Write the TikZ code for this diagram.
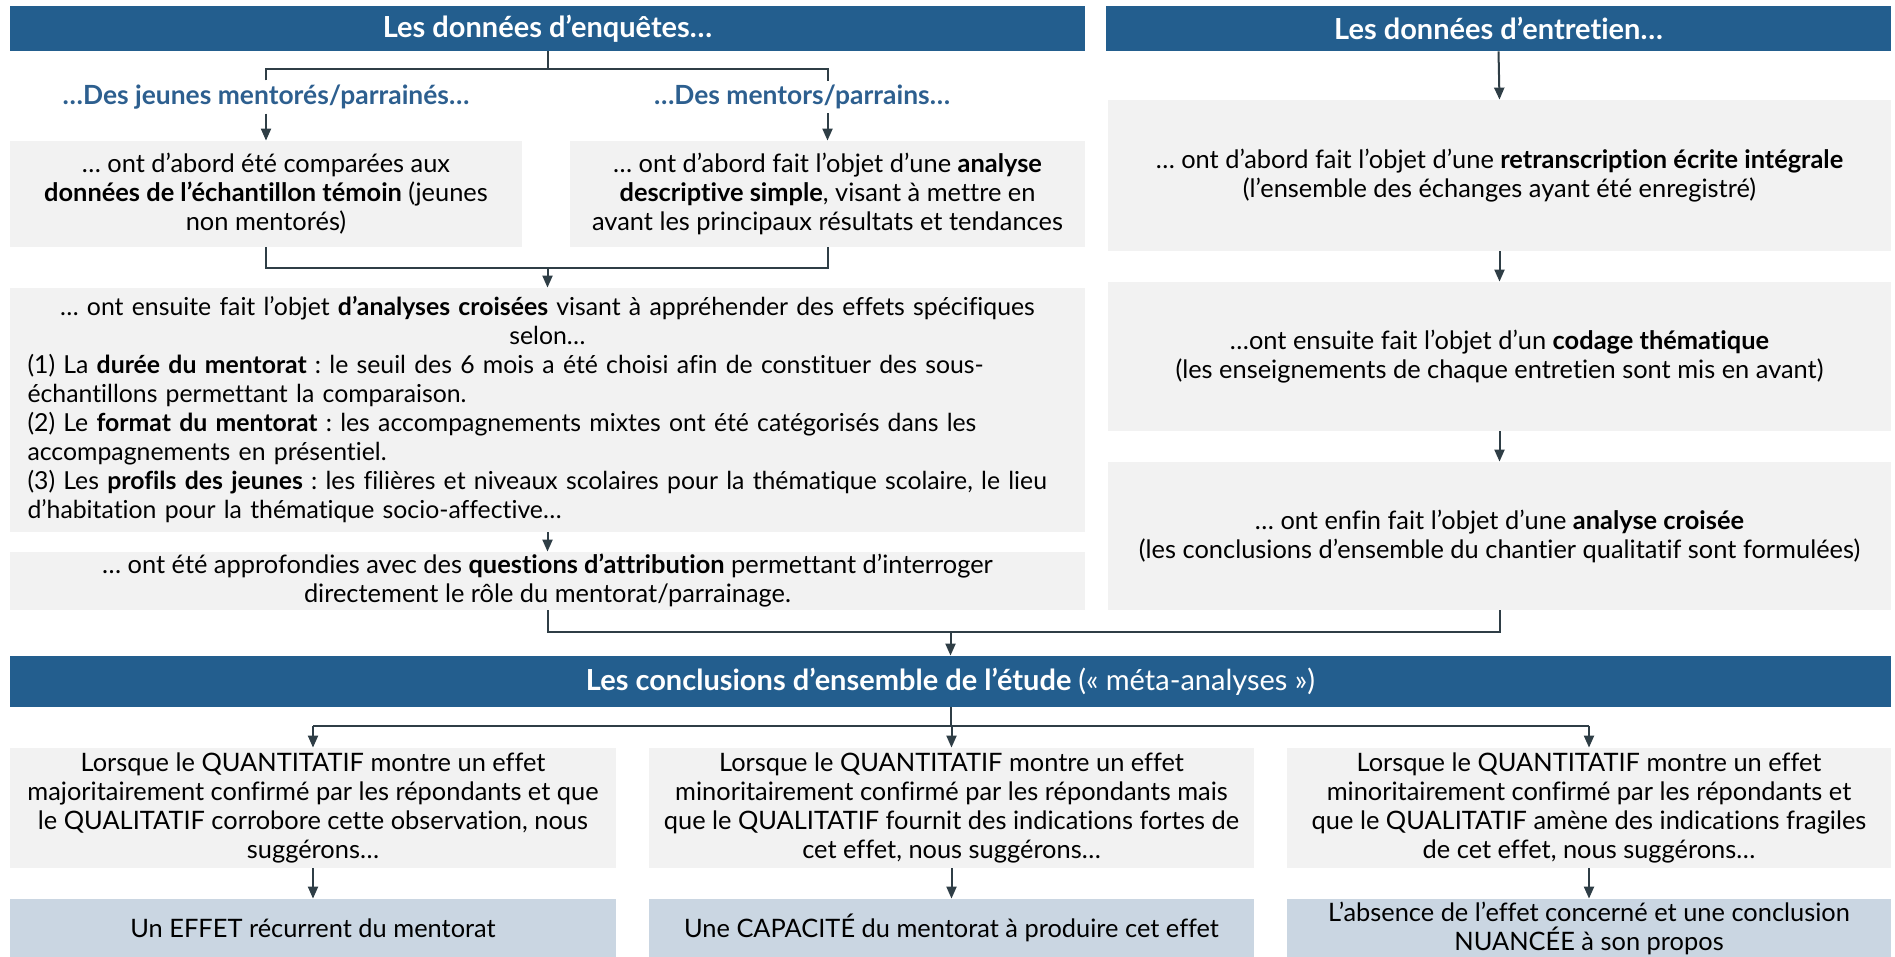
\documentclass[tikz,border=0pt]{standalone}
\usepackage{fontspec}
\setmainfont{Lato}[Ligatures={TeX,NoCommon}]
\usepackage{xcolor}
\usetikzlibrary{positioning,calc,arrows.meta}
\definecolor{headblue}{HTML}{235E8E}
\definecolor{boxgray}{HTML}{F2F2F2}
\definecolor{resblue}{HTML}{CAD6E2}
\definecolor{linkgray}{HTML}{2F3E46}
\definecolor{labblue}{HTML}{2D5F8F}
\newcommand{\bfont}{\fontsize{12.7}{14.5}\selectfont\frenchspacing}
\newcommand{\hfont}{\fontsize{14.5}{16}\selectfont\bfseries}
\newcommand{\bnode}[6]{\node [#1, minimum width=#4pt, minimum height=#5pt] (#2) at (#3) {#6}}
\tikzset{
  head/.style={fill=headblue, text=white, font=\hfont, inner sep=0pt, align=center},
  graybox/.style={fill=boxgray, font=\bfont, inner sep=0pt, align=center},
  resbox/.style={fill=resblue, font=\bfont, inner sep=0pt, align=center},
  lab/.style={text=labblue, font=\fontsize{13.2}{15}\selectfont\bfseries, inner sep=2pt},
  link/.style={draw=linkgray, line width=1pt},
  arr/.style={link, -{Triangle[length=6pt, width=5pt]}},
}

\begin{document}
\begin{tikzpicture}[x=0.5pt, y=-0.5pt]
\useasboundingbox (0,0) rectangle (1895,957);

\bnode{head}{HENQ}{547.5,28.5}{537.5}{22.5}{Les données d’enquêtes…};
\bnode{head}{HENT}{1498.5,28.5}{392.5}{22.5}{Les données d’entretien…};

\node [lab] (LJEU) at (266,97) {…Des jeunes mentorés/parrainés…};
\node [lab] (LMEN) at (802,97) {…Des mentors/parrains…};

\bnode{graybox}{A1}{266,194}{256}{53}{… ont d’abord été comparées aux\\ \textbf{données de l’échantillon témoin} (jeunes\\ non mentorés)};
\bnode{graybox}{A2}{827.5,194}{257.5}{53}{… ont d’abord fait l’objet d’une \textbf{analyse}\\ \textbf{descriptive simple}, visant à mettre en\\ avant les principaux résultats et tendances};

\bnode{graybox, align=left, text width=520pt, font=\fontsize{12.4}{14.5}\selectfont\frenchspacing}{B}{547.5,410}{537.5}{122}{{\centering … ont ensuite fait l’objet \textbf{d’analyses croisées} visant à appréhender des effets spécifiques\\ selon…\par}
(1) La \textbf{durée du mentorat} : le seuil des 6 mois a été choisi afin de constituer des sous-\\ échantillons permettant la comparaison.\\
(2) Le \textbf{format du mentorat} : les accompagnements mixtes ont été catégorisés dans les\\ accompagnements en présentiel.\\
(3) Les \textbf{profils des jeunes} : les filières et niveaux scolaires pour la thématique scolaire, le lieu\\ d’habitation pour la thématique socio-affective…};
\bnode{graybox}{C}{547.5,581}{537.5}{29}{… ont été approfondies avec des \textbf{questions d’attribution} permettant d’interroger\\ directement le rôle du mentorat/parrainage.};

\bnode{graybox}{R1}{1499.5,175.5}{391.5}{75.5}{… ont d’abord fait l’objet d’une \textbf{retranscription écrite intégrale}\\ (l’ensemble des échanges ayant été enregistré)};
\bnode{graybox}{R2}{1499.5,356.5}{391.5}{74.5}{…ont ensuite fait l’objet d’un \textbf{codage thématique}\\ (les enseignements de chaque entretien sont mis en avant)};
\bnode{graybox}{R3}{1499.5,536}{391.5}{74}{… ont enfin fait l’objet d’une \textbf{analyse croisée}\\ (les conclusions d’ensemble du chantier qualitatif sont formulées)};

\bnode{head}{HCON}{950.5,681.5}{940.5}{25.5}{Les conclusions d’ensemble de l’étude \mdseries(« méta-analyses »)};

\bnode{graybox}{D1}{313,808}{303}{60}{Lorsque le QUANTITATIF montre un effet\\ majoritairement confirmé par les répondants et que\\ le QUALITATIF corrobore cette observation, nous\\ suggérons…};
\bnode{graybox}{D2}{951.5,808}{302.5}{60}{Lorsque le QUANTITATIF montre un effet\\ minoritairement confirmé par les répondants mais\\ que le QUALITATIF fournit des indications fortes de\\ cet effet, nous suggérons…};
\bnode{graybox}{D3}{1589,808}{302}{60}{Lorsque le QUANTITATIF montre un effet\\ minoritairement confirmé par les répondants et\\ que le QUALITATIF amène des indications fragiles\\ de cet effet, nous suggérons…};

\bnode{resbox}{E1}{313,928}{303}{29}{Un EFFET récurrent du mentorat};
\bnode{resbox}{E2}{951.5,928}{302.5}{29}{Une CAPACITÉ du mentorat à produire cet effet};
\bnode{resbox}{E3}{1589,928}{302}{29}{L’absence de l’effet concerné et une conclusion\\ NUANCÉE à son propos};

\coordinate (splitE) at (547.5,69);
\coordinate (joinE) at (547.5,268);
\coordinate (mergeC) at (950.5,632);
\coordinate (splitC) at (950.5,726);

\draw[link] (HENQ.south) -- (splitE);
\draw[link] (A1.north |- LJEU.north) -- (A1.north |- splitE) -- (A2.north |- splitE) -- (A2.north |- LMEN.north);
\draw[arr] (A1.north |- LJEU.south) -- (A1.north);
\draw[arr] (A2.north |- LMEN.south) -- (A2.north);

\draw[link] (A1.south) |- (joinE) -| (A2.south);
\draw[arr] (joinE) -- (B.north);
\draw[arr] (B.south) -- (C.north);

\draw[arr] (HENT.south) -- (R1.north);
\draw[arr] (R1.south) -- (R2.north);
\draw[arr] (R2.south) -- (R3.north);

\draw[link] (C.south) |- (mergeC) -| (R3.south);
\draw[arr] (mergeC) -- (HCON.north);

\draw[link] (HCON.south) -- (splitC);
\draw[link] (D1.north |- splitC) -- (D3.north |- splitC);
\draw[arr] (D1.north |- splitC) -- (D1.north);
\draw[arr] (D2.north |- splitC) -- (D2.north);
\draw[arr] (D3.north |- splitC) -- (D3.north);

\draw[arr] (D1.south) -- (E1.north);
\draw[arr] (D2.south) -- (E2.north);
\draw[arr] (D3.south) -- (E3.north);

\end{tikzpicture}
\end{document}
